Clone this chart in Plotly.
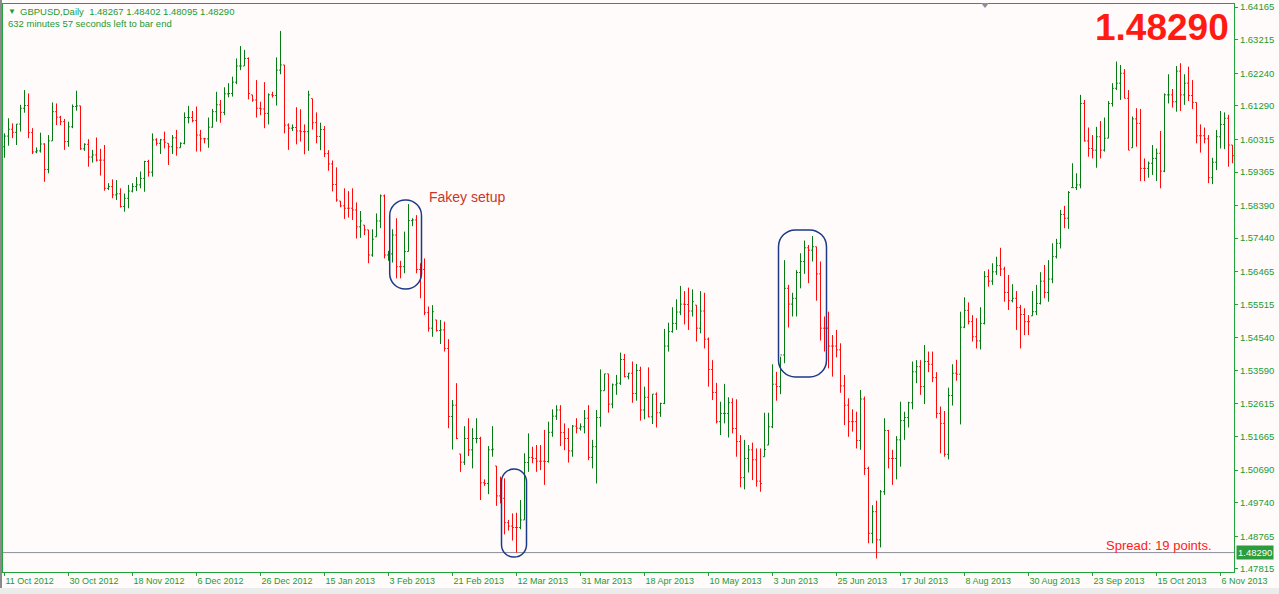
import plotly.graph_objects as go

# ---------------- data (GBPUSD daily) ----------------
first_open = 1.6010
closes = [
    1.6041, 1.6061, 1.6052, 1.6076, 1.6122, 1.6130, 1.6051, 1.5995, 1.5998, 1.6018,
    1.5944, 1.6027, 1.6112, 1.6096, 1.6083, 1.6025, 1.6068, 1.6127, 1.6129, 1.6004,
    1.6017, 1.5980, 1.5986, 1.5971, 1.5971, 1.5889, 1.5894, 1.5870, 1.5873, 1.5836,
    1.5860, 1.5881, 1.5894, 1.5899, 1.5918, 1.5967, 1.5936, 1.6030, 1.6020, 1.6030,
    1.6023, 1.6010, 1.6036, 1.6007, 1.6020, 1.6095, 1.6095, 1.6086, 1.6044, 1.6033,
    1.6033, 1.6067, 1.6112, 1.6132, 1.6110, 1.6164, 1.6165, 1.6198, 1.6245, 1.6245,
    1.6267, 1.6165, 1.6146, 1.6122, 1.6120, 1.6107, 1.6161, 1.6159, 1.6233, 1.6248,
    1.6073, 1.6064, 1.6066, 1.6056, 1.6054, 1.6054, 1.6161, 1.6080, 1.6040, 1.6060,
    1.5990, 1.5960, 1.5900, 1.5855, 1.5838, 1.5831, 1.5831, 1.5826, 1.5777, 1.5794,
    1.5768, 1.5695, 1.5741, 1.5794, 1.5867, 1.5695, 1.5698, 1.5753, 1.5661, 1.5661,
    1.5705, 1.5795, 1.5797, 1.5653, 1.5653, 1.5527, 1.5482, 1.5530, 1.5475, 1.5477,
    1.5423, 1.5225, 1.5258, 1.5161, 1.5092, 1.5161, 1.5128, 1.5161, 1.5161, 1.5032,
    1.5030, 1.5128, 1.5130, 1.4994, 1.4987, 1.4916, 1.4906, 1.4902, 1.4902, 1.4924,
    1.5091, 1.5106, 1.5103, 1.5095, 1.5095, 1.5094, 1.5179, 1.5226, 1.5244, 1.5178,
    1.5161, 1.5125, 1.5197, 1.5191, 1.5195, 1.5220, 1.5106, 1.5137, 1.5222, 1.5300,
    1.5349, 1.5261, 1.5317, 1.5322, 1.5391, 1.5341, 1.5351, 1.5292, 1.5359, 1.5244,
    1.5281, 1.5224, 1.5290, 1.5236, 1.5263, 1.5430, 1.5472, 1.5496, 1.5529, 1.5552,
    1.5551, 1.5532, 1.5559, 1.5482, 1.5532, 1.5450, 1.5362, 1.5295, 1.5210, 1.5234,
    1.5234, 1.5265, 1.5190, 1.5152, 1.5047, 1.5103, 1.5128, 1.5099, 1.5037, 1.5030,
    1.5129, 1.5195, 1.5319, 1.5312, 1.5404, 1.5598, 1.5552, 1.5569, 1.5644, 1.5676,
    1.5716, 1.5709, 1.5719, 1.5640, 1.5482, 1.5482, 1.5430, 1.5430, 1.5419, 1.5314,
    1.5258, 1.5210, 1.5210, 1.5155, 1.5276, 1.5074, 1.4885, 1.4948, 1.4866, 1.5006,
    1.5184, 1.5103, 1.5103, 1.5157, 1.5213, 1.5222, 1.5265, 1.5355, 1.5370, 1.5312,
    1.5385, 1.5377, 1.5338, 1.5234, 1.5205, 1.5115, 1.5286, 1.5351, 1.5348, 1.5485,
    1.5534, 1.5501, 1.5457, 1.5445, 1.5496, 1.5632, 1.5619, 1.5646, 1.5664, 1.5654,
    1.5586, 1.5562, 1.5569, 1.5542, 1.5522, 1.5501, 1.5501, 1.5530, 1.5554, 1.5619,
    1.5586, 1.5625, 1.5690, 1.5729, 1.5813, 1.5802, 1.5877, 1.5891, 1.5899, 1.6136,
    1.6027, 1.6005, 1.6000, 1.6039, 1.6000, 1.6035, 1.6136, 1.6180, 1.6195, 1.6224,
    1.6151, 1.6000, 1.6091, 1.6078, 1.5947, 1.5947, 1.5962, 1.5976, 1.5991, 1.5939,
    1.6161, 1.6161, 1.6141, 1.6230, 1.6161, 1.6195, 1.6159, 1.6139, 1.6042, 1.6042,
    1.6033, 1.5920, 1.5965, 1.6039, 1.6075, 1.6093, 1.6015, 1.5984,
]
highs = [
    1.6049, 1.6093, 1.6078, 1.6076, 1.6132, 1.6175, 1.6165, 1.6064, 1.6008, 1.6051,
    1.6020, 1.6044, 1.6139, 1.6136, 1.6100, 1.6091, 1.6083, 1.6133, 1.6173, 1.6129,
    1.6020, 1.6032, 1.6001, 1.6037, 1.6004, 1.6015, 1.5904, 1.5915, 1.5913, 1.5889,
    1.5874, 1.5899, 1.5904, 1.5922, 1.5938, 1.5969, 1.5972, 1.6049, 1.6035, 1.6033,
    1.6054, 1.6020, 1.6044, 1.6059, 1.6023, 1.6110, 1.6129, 1.6114, 1.6127, 1.6059,
    1.6036, 1.6095, 1.6120, 1.6170, 1.6146, 1.6183, 1.6195, 1.6214, 1.6267, 1.6303,
    1.6292, 1.6270, 1.6161, 1.6204, 1.6141, 1.6198, 1.6165, 1.6170, 1.6270, 1.6347,
    1.6248, 1.6078, 1.6075, 1.6125, 1.6119, 1.6075, 1.6173, 1.6150, 1.6110, 1.6080,
    1.6070, 1.6000, 1.5970, 1.5950, 1.5852, 1.5889, 1.5881, 1.5889, 1.5848, 1.5823,
    1.5782, 1.5768, 1.5770, 1.5816, 1.5871, 1.5871, 1.5707, 1.5770, 1.5802, 1.5678,
    1.5763, 1.5843, 1.5802, 1.5811, 1.5671, 1.5685, 1.5545, 1.5549, 1.5506, 1.5506,
    1.5501, 1.5450, 1.5273, 1.5322, 1.5116, 1.5197, 1.5220, 1.5191, 1.5220, 1.5166,
    1.5042, 1.5139, 1.5197, 1.5081, 1.5050, 1.5045, 1.4924, 1.4943, 1.4945, 1.4982,
    1.5118, 1.5176, 1.5137, 1.5142, 1.5142, 1.5186, 1.5210, 1.5246, 1.5258, 1.5258,
    1.5205, 1.5191, 1.5200, 1.5220, 1.5205, 1.5244, 1.5258, 1.5157, 1.5244, 1.5362,
    1.5349, 1.5349, 1.5321, 1.5346, 1.5411, 1.5407, 1.5352, 1.5385, 1.5378, 1.5370,
    1.5312, 1.5368, 1.5290, 1.5295, 1.5265, 1.5480, 1.5498, 1.5543, 1.5566, 1.5605,
    1.5590, 1.5600, 1.5595, 1.5549, 1.5590, 1.5585, 1.5455, 1.5389, 1.5323, 1.5268,
    1.5320, 1.5281, 1.5278, 1.5275, 1.5171, 1.5157, 1.5142, 1.5149, 1.5132, 1.5132,
    1.5236, 1.5236, 1.5377, 1.5355, 1.5399, 1.5680, 1.5608, 1.5585, 1.5651, 1.5700,
    1.5737, 1.5724, 1.5750, 1.5719, 1.5676, 1.5516, 1.5530, 1.5462, 1.5477, 1.5438,
    1.5346, 1.5278, 1.5246, 1.5239, 1.5302, 1.5283, 1.5079, 1.4967, 1.4980, 1.5011,
    1.5220, 1.5186, 1.5128, 1.5168, 1.5268, 1.5239, 1.5268, 1.5385, 1.5389, 1.5389,
    1.5433, 1.5414, 1.5414, 1.5354, 1.5254, 1.5241, 1.5309, 1.5377, 1.5390, 1.5530,
    1.5572, 1.5557, 1.5520, 1.5511, 1.5543, 1.5648, 1.5653, 1.5671, 1.5690, 1.5716,
    1.5661, 1.5637, 1.5610, 1.5590, 1.5550, 1.5540, 1.5520, 1.5590, 1.5608, 1.5645,
    1.5666, 1.5680, 1.5729, 1.5742, 1.5826, 1.5838, 1.5881, 1.5962, 1.5933, 1.6161,
    1.6146, 1.6066, 1.6044, 1.6068, 1.6085, 1.6095, 1.6143, 1.6195, 1.6258, 1.6248,
    1.6236, 1.6175, 1.6098, 1.6122, 1.6120, 1.5976, 1.5967, 1.6015, 1.6005, 1.6056,
    1.6165, 1.6221, 1.6178, 1.6245, 1.6253, 1.6221, 1.6243, 1.6204, 1.6139, 1.6075,
    1.6066, 1.6044, 1.5978, 1.6059, 1.6114, 1.6110, 1.6103, 1.6015,
]
lows = [
    1.5978, 1.6013, 1.6035, 1.6015, 1.6054, 1.6109, 1.6035, 1.5989, 1.5991, 1.5993,
    1.5908, 1.5933, 1.6027, 1.6073, 1.6073, 1.6001, 1.6010, 1.6064, 1.6115, 1.6001,
    1.5998, 1.5952, 1.5964, 1.5967, 1.5926, 1.5882, 1.5884, 1.5860, 1.5855, 1.5833,
    1.5821, 1.5831, 1.5877, 1.5881, 1.5889, 1.5879, 1.5923, 1.5923, 1.6013, 1.5989,
    1.6005, 1.5957, 1.5989, 1.5984, 1.6007, 1.6017, 1.6078, 1.6081, 1.5996, 1.5996,
    1.6020, 1.6007, 1.6066, 1.6083, 1.6080, 1.6102, 1.6154, 1.6156, 1.6192, 1.6233,
    1.6245, 1.6148, 1.6141, 1.6095, 1.6102, 1.6064, 1.6075, 1.6153, 1.6130, 1.6221,
    1.6049, 1.6001, 1.6056, 1.6017, 1.6025, 1.5988, 1.5998, 1.6060, 1.6020, 1.6000,
    1.5980, 1.5940, 1.5880, 1.5850, 1.5834, 1.5800, 1.5804, 1.5797, 1.5743, 1.5745,
    1.5753, 1.5671, 1.5690, 1.5748, 1.5773, 1.5685, 1.5678, 1.5673, 1.5627, 1.5627,
    1.5642, 1.5705, 1.5779, 1.5642, 1.5569, 1.5520, 1.5472, 1.5457, 1.5472, 1.5436,
    1.5414, 1.5191, 1.5129, 1.5159, 1.5064, 1.5084, 1.5110, 1.5074, 1.5147, 1.4982,
    1.5023, 1.4999, 1.5108, 1.4965, 1.4972, 1.4882, 1.4893, 1.4864, 1.4829, 1.4897,
    1.4924, 1.5064, 1.5089, 1.5064, 1.5069, 1.5026, 1.5091, 1.5166, 1.5215, 1.5139,
    1.5127, 1.5091, 1.5108, 1.5176, 1.5184, 1.5176, 1.5098, 1.5074, 1.5030, 1.5195,
    1.5300, 1.5236, 1.5249, 1.5288, 1.5317, 1.5339, 1.5333, 1.5265, 1.5271, 1.5213,
    1.5217, 1.5223, 1.5203, 1.5193, 1.5224, 1.5261, 1.5414, 1.5469, 1.5477, 1.5520,
    1.5493, 1.5477, 1.5516, 1.5443, 1.5467, 1.5423, 1.5312, 1.5273, 1.5205, 1.5171,
    1.5205, 1.5164, 1.5176, 1.5108, 1.5019, 1.5013, 1.5062, 1.5040, 1.5021, 1.5006,
    1.5108, 1.5142, 1.5191, 1.5271, 1.5290, 1.5380, 1.5484, 1.5516, 1.5516, 1.5598,
    1.5640, 1.5613, 1.5676, 1.5562, 1.5446, 1.5414, 1.5365, 1.5341, 1.5397, 1.5294,
    1.5200, 1.5166, 1.5181, 1.5132, 1.5128, 1.5055, 1.4856, 1.4856, 1.4812, 1.4844,
    1.4997, 1.5074, 1.5026, 1.5042, 1.5079, 1.5157, 1.5193, 1.5246, 1.5322, 1.5288,
    1.5261, 1.5354, 1.5325, 1.5220, 1.5118, 1.5108, 1.5100, 1.5257, 1.5329, 1.5202,
    1.5482, 1.5493, 1.5443, 1.5423, 1.5420, 1.5493, 1.5603, 1.5608, 1.5637, 1.5634,
    1.5559, 1.5535, 1.5557, 1.5477, 1.5423, 1.5462, 1.5462, 1.5518, 1.5520, 1.5551,
    1.5569, 1.5559, 1.5613, 1.5685, 1.5714, 1.5773, 1.5771, 1.5891, 1.5884, 1.5889,
    1.6025, 1.5981, 1.5976, 1.5949, 1.5976, 1.5996, 1.6035, 1.6127, 1.6175, 1.6146,
    1.6151, 1.6000, 1.6007, 1.6010, 1.5910, 1.5910, 1.5920, 1.5928, 1.5910, 1.5889,
    1.5936, 1.6136, 1.6124, 1.6112, 1.6114, 1.6132, 1.6143, 1.6120, 1.6020, 1.5993,
    1.6020, 1.5904, 1.5901, 1.5942, 1.6005, 1.6003, 1.5952, 1.5962,
]
date_labels = ["11 Oct 2012", "30 Oct 2012", "18 Nov 2012", "6 Dec 2012", "26 Dec 2012",
               "15 Jan 2013", "3 Feb 2013", "21 Feb 2013", "12 Mar 2013", "31 Mar 2013",
               "18 Apr 2013", "10 May 2013", "3 Jun 2013", "25 Jun 2013", "17 Jul 2013",
               "8 Aug 2013", "30 Aug 2013", "23 Sep 2013", "15 Oct 2013", "6 Nov 2013"]
label_every = 16
price_ticks = [1.64165, 1.63215, 1.62240, 1.61290, 1.60315, 1.59365, 1.58390, 1.57440,
               1.56465, 1.55515, 1.54540, 1.53590, 1.52615, 1.51665, 1.50690, 1.49740,
               1.48765, 1.47815]
bid_price = 1.48290
header_values = [1.48267, 1.48402, 1.48095, 1.48290]

# ---------------- derived ----------------
n = len(closes)
idx = list(range(n))
opens = [first_open] + [min(max(closes[i - 1], lows[i]), highs[i]) for i in range(1, n)]

W, H = 1279, 594
L_PX, R_PX, T_PX, B_PX = 3, 1234, 4, 572
GREEN_TXT = "#1c9a34"
GREEN_AX = "#22a23a"
BG = "#fffbfa"
FONT = "Liberation Sans"

def px_x(px):
    return (px - L_PX) / (R_PX - L_PX)

def px_y(py):
    return (B_PX - py) / (B_PX - T_PX)

fig = go.Figure()
fig.add_trace(go.Ohlc(
    x=idx, open=opens, high=highs, low=lows, close=closes,
    increasing=dict(line=dict(color="#067a12", width=1)),
    decreasing=dict(line=dict(color="#ff0a0a", width=1)),
    tickwidth=0.35, hoverinfo="skip", showlegend=False,
))

# bid line
fig.add_shape(type="line", xref="paper", yref="y", x0=0, x1=1, y0=bid_price, y1=bid_price,
              line=dict(color="#8d8f9c", width=1), layer="below")

# rounded frames
def capsule(x0, x1, y0, y1, rx, ry):
    k = 0.5523
    p = [f"M {x0+rx},{y1}", f"L {x1-rx},{y1}",
         f"C {x1-rx+k*rx},{y1} {x1},{y1-ry+k*ry} {x1},{y1-ry}",
         f"L {x1},{y0+ry}",
         f"C {x1},{y0+ry-k*ry} {x1-rx+k*rx},{y0} {x1-rx},{y0}",
         f"L {x0+rx},{y0}",
         f"C {x0+rx-k*rx},{y0} {x0},{y0+ry-k*ry} {x0},{y0+ry}",
         f"L {x0},{y1-ry}",
         f"C {x0},{y1-ry+k*ry} {x0+rx-k*rx},{y1} {x0+rx},{y1}", "Z"]
    return " ".join(p)

frames = [(96.3, 104.25, 1.5596, 1.5855, 3.9, 0.00455),
          (124.25, 130.5, 1.4816, 1.5072, 3.1, 0.0036),
          (193.5, 205.5, 1.5340, 1.5768, 4.2, 0.0049)]
for f in frames:
    fig.add_shape(type="path", xref="x", yref="y", path=capsule(*f),
                  line=dict(color="#1d3a86", width=1.5))

# left window edge
fig.add_shape(type="rect", xref="paper", yref="paper", x0=px_x(0), x1=px_x(2),
              y0=px_y(594), y1=px_y(0), fillcolor="#8a8a8a", line=dict(width=0), layer="below")
# bottom window tab strip
fig.add_shape(type="rect", xref="paper", yref="paper", x0=px_x(0), x1=px_x(1279),
              y0=px_y(594), y1=px_y(588), fillcolor="#ececec", line=dict(width=0))
# shift marker
fig.add_shape(type="path", xref="paper", yref="paper",
              path=f"M {px_x(981)},{px_y(3)} L {px_x(989)},{px_y(3)} L {px_x(985)},{px_y(8)} Z",
              fillcolor="#8a8f9a", line=dict(width=0))

ann = []
ann.append(dict(x=px_x(6), y=px_y(12), xref="paper", yref="paper", text="▼", showarrow=False,
                xanchor="left", yanchor="middle", font=dict(size=8, color=GREEN_TXT, family=FONT)))
ann.append(dict(x=px_x(18), y=px_y(12), xref="paper", yref="paper",
                text="GBPUSD,Daily  " + " ".join(f"{v:.5f}" for v in header_values),
                showarrow=False, xanchor="left", yanchor="middle",
                font=dict(size=9.5, color=GREEN_TXT, family=FONT)))
ann.append(dict(x=px_x(6), y=px_y(24), xref="paper", yref="paper",
                text="632 minutes 57 seconds left to bar end", showarrow=False,
                xanchor="left", yanchor="middle", font=dict(size=9.5, color=GREEN_TXT, family=FONT)))
ann.append(dict(x=px_x(1231), y=px_y(27), xref="paper", yref="paper", text=f"<b>{bid_price:.5f}</b>",
                showarrow=False, xanchor="right", yanchor="middle",
                font=dict(size=37, color="#ff1a12", family=FONT)))
ann.append(dict(x=px_x(427), y=px_y(197), xref="paper", yref="paper", text="Fakey setup",
                showarrow=False, xanchor="left", yanchor="middle",
                font=dict(size=14, color="#c8362c", family=FONT)))
ann.append(dict(x=px_x(1214), y=px_y(545), xref="paper", yref="paper", text="Spread: 19 points.",
                showarrow=False, xanchor="right", yanchor="middle",
                font=dict(size=13, color="#ff2020", family=FONT)))
ann.append(dict(x=px_x(1236), y=bid_price, xref="paper", yref="y", text=f"{bid_price:.5f}",
                showarrow=False, xanchor="left", yanchor="middle", bgcolor="#2c9c3c", borderpad=1,
                font=dict(size=9.5, color="white", family=FONT)))

fig.update_layout(
    width=W, height=H,
    margin=dict(l=L_PX, r=W - R_PX, t=T_PX, b=H - B_PX, autoexpand=False),
    paper_bgcolor=BG, plot_bgcolor=BG,
    annotations=ann,
    xaxis=dict(range=[-0.375, 307.375], rangeslider=dict(visible=False), showgrid=False, zeroline=False,
               tickmode="array", tickvals=[i * label_every for i in range(len(date_labels))],
               ticktext=date_labels, ticks="outside", ticklen=3, tickcolor=GREEN_AX,
               ticklabelposition="outside right",
               showline=True, linecolor=GREEN_AX, linewidth=1, mirror=True,
               tickfont=dict(size=9, color=GREEN_TXT, family=FONT)),
    yaxis=dict(range=[1.47725, 1.64254], side="right", showgrid=False, zeroline=False,
               tickmode="array", tickvals=price_ticks, ticktext=[f"{v:.5f}" for v in price_ticks],
               ticks="outside", ticklen=3, tickcolor=GREEN_AX,
               showline=True, linecolor=GREEN_AX, linewidth=1, mirror=True,
               tickfont=dict(size=9.5, color=GREEN_TXT, family=FONT)),
)

fig.write_html("out.html", config={"displayModeBar": False},
               post_script="document.body.style.margin='0';document.body.style.overflow='hidden';")
